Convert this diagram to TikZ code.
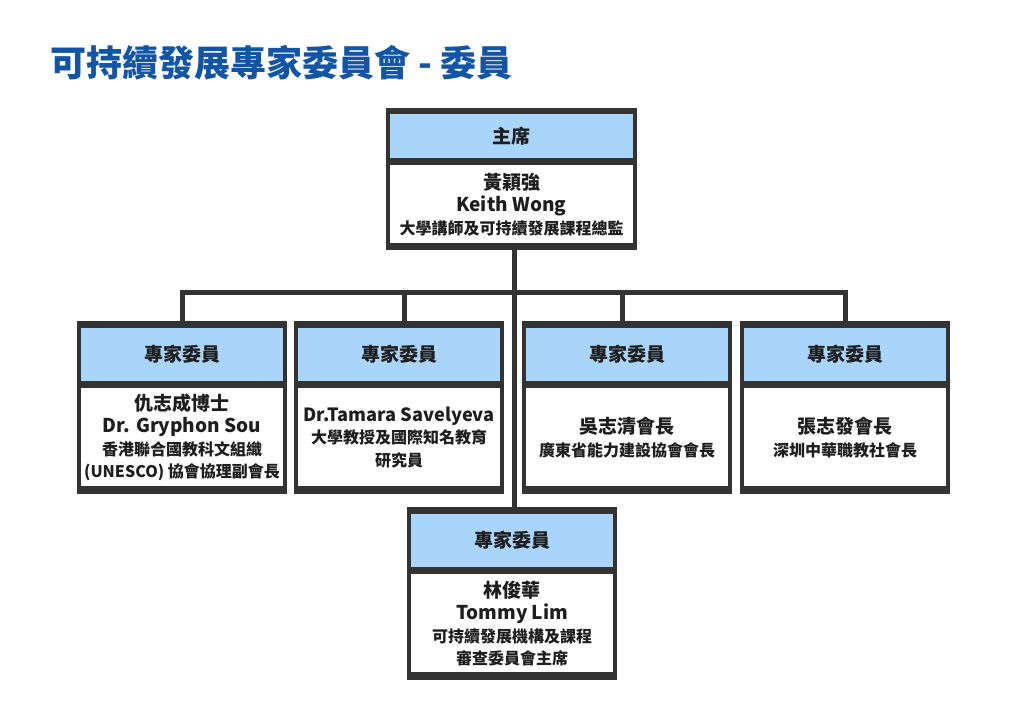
\documentclass[tikz,border=0pt]{standalone}
\usepackage{fontspec}
\newfontfamily\cjk{Noto Sans CJK TC}
\usetikzlibrary{positioning,fit,backgrounds}
\definecolor{framegray}{HTML}{333333}
\definecolor{hdrblue}{HTML}{A9D5FB}
\definecolor{titleblue}{HTML}{1254A6}
\definecolor{ink}{HTML}{1E1E1E}
\newcommand{\detail}{\fontsize{16}{22.5}\selectfont}

\begin{document}
\begin{tikzpicture}[x=1pt,y=-1pt,
    head/.style={fill=hdrblue,text=ink,minimum width=202pt,minimum height=53pt,inner sep=0pt,
      font=\cjk\bfseries\fontsize{19}{22.5}\selectfont},
    body/.style={fill=white,text=ink,minimum width=202pt,minimum height=98pt,inner sep=0pt,align=center,
      font=\cjk\bfseries\fontsize{19}{22.5}\selectfont},
    boxframe/.style={fill=framegray,inner xsep=4pt,inner ysep=7pt},
    conn/.style={draw=framegray,line width=5pt}]
  \useasboundingbox (0,0) rectangle (1024,724);

  \node[anchor=west,text=titleblue,font=\cjk\bfseries\fontsize{36}{40}\selectfont] (title) at (47,63)
    {可持續發展專家委員會 - 委員};

  % chair
  \node[head,minimum width=243pt,minimum height=44pt] (h0) at (511.5,136) {主席};
  \node[body,minimum width=243pt,minimum height=78pt,below=7pt of h0] (b0)
    {黃穎強\\Keith Wong\\{\detail 大學講師及可持續發展課程總監}};

  % members
  \node[head] (h1) at (182,354.5) {專家委員};
  \node[body,below=7pt of h1] (b1)
    {仇志成博士\\Dr. Gryphon Sou\\{\detail 香港聯合國教科文組織}\\{\detail (UNESCO) 協會協理副會長}};
  \node[head] (h2) at (399,354.5) {專家委員};
  \node[body,below=7pt of h2] (b2)
    {{\fontsize{18.2}{22.5}\selectfont Dr.Tamara Savelyeva}\\{\detail 大學教授及國際知名教育}\\{\detail 研究員}};
  \node[head] (h3) at (627,354.5) {專家委員};
  \node[body,below=7pt of h3] (b3)
    {吳志清會長\\{\detail 廣東省能力建設協會會長}};
  \node[head] (h4) at (845,354.5) {專家委員};
  \node[body,below=7pt of h4] (b4)
    {張志發會長\\{\detail 深圳中華職教社會長}};
  \node[head] (h5) at (512,540.5) {專家委員};
  \node[body,below=7pt of h5] (b5)
    {林俊華\\Tommy Lim\\{\detail 可持續發展機構及課程}\\{\detail 審查委員會主席}};

  \begin{scope}[on background layer]
    \fill[white] (0,0) rectangle (1024,724);
    \node[boxframe,inner ysep=6pt,fit=(h0)(b0)] (f0) {};
    \node[boxframe,fit=(h1)(b1)] (f1) {};
    \node[boxframe,fit=(h2)(b2)] (f2) {};
    \node[boxframe,fit=(h3)(b3)] (f3) {};
    \node[boxframe,fit=(h4)(b4)] (f4) {};
    \node[boxframe,fit=(h5)(b5)] (f5) {};
  \end{scope}

  \coordinate (bus) at (514,292.5);
  \draw[conn]
    (f0.south -| bus) -- (f5.north -| bus)
    (f1.north) |- (bus) -| (f4.north)
    ([xshift=5pt]f2.north) -- ([xshift=5pt]f2.north |- bus)
    ([xshift=-5pt]f3.north) -- ([xshift=-5pt]f3.north |- bus);
\end{tikzpicture}
\end{document}
